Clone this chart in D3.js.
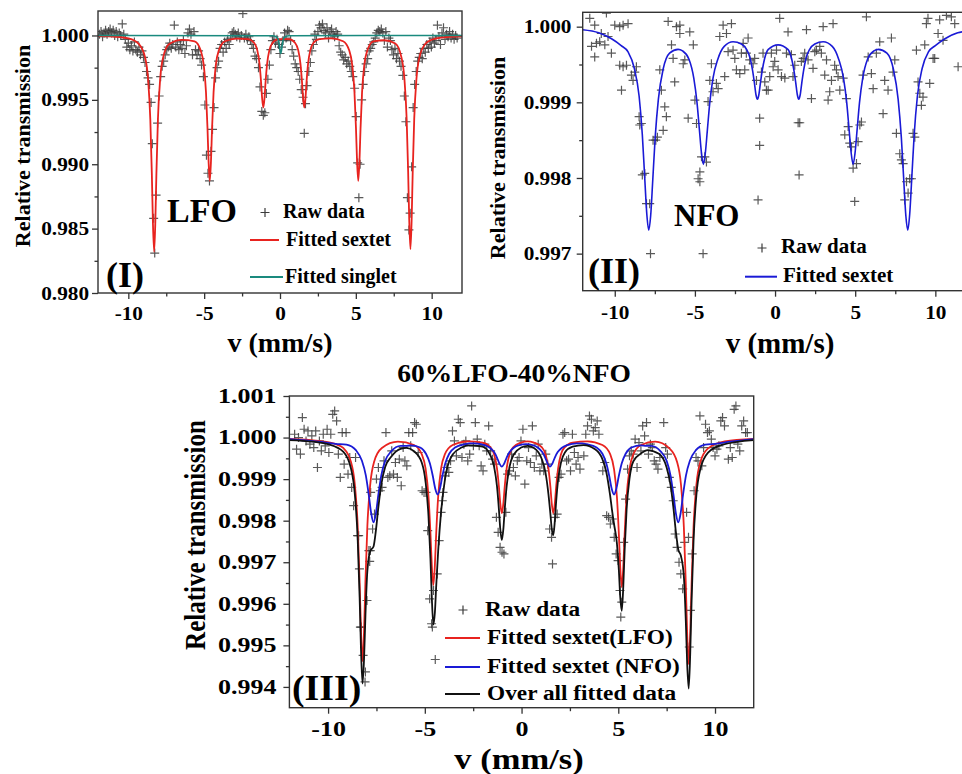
<!DOCTYPE html>
<html>
<head>
<meta charset="utf-8">
<script src="https://cdn.jsdelivr.net/npm/d3@7"></script>
<style>
  body { margin: 0; background: #fff; }
  svg text { font-family: "Liberation Serif", "Times New Roman", serif; font-weight: bold; fill: #000; }
</style>
</head>
<body>
<script>
// velocity axis (mm/s), shared by the three spectra
const vTicks = [-10, -5, 0, 5, 10];
const vMinor = [-7.5, -2.5, 2.5, 7.5];

// ---- (I) LFO ----
const tTicksI = [0.980, 0.985, 0.990, 0.995, 1.000];
const tMinorI = [0.9825, 0.9875, 0.9925, 0.9975];
const namesI = ['Raw data', 'Fitted sextet', 'Fitted singlet'];

const rawI = [
  [-11.9,1.0001],[-11.8,1.0003],[-11.7,0.9999],[-11.6,1.0002],[-11.5,1.0004],[-11.4,1.0001],[-11.3,1.0003],[-11.2,1.0005],
  [-11.1,1.0002],[-11.0,1.0004],[-10.9,1.0000],[-10.8,1.0003],[-10.7,0.9999],[-10.6,1.0002],[-10.5,1.0000],[-10.4,1.0009],
  [-10.3,1.0001],[-10.2,0.9997],[-10.1,0.9991],[-10.0,0.9994],[-9.9,0.9989],[-9.8,0.9992],[-9.7,0.9988],[-9.6,0.9995],
  [-9.5,0.9989],[-9.4,0.9987],[-9.3,0.9991],[-9.2,0.9985],[-9.1,0.9988],[-9.0,0.9983],[-8.9,0.9979],[-8.8,0.9972],
  [-8.7,0.9967],[-8.6,0.9962],[-8.5,0.9948],[-8.42,0.9916],[-8.33,0.9858],[-8.26,0.9831],[-8.17,0.9876],[-8.07,0.9932],
  [-7.97,0.9953],[-7.87,0.9968],[-7.77,0.9976],[-7.67,0.9980],[-7.57,0.9985],[-7.47,0.9989],[-7.37,0.9991],[-7.27,0.9994],
  [-7.17,0.9990],[-7.07,0.9993],[-6.97,1.0008],[-6.87,0.9991],[-6.77,0.9995],[-6.67,0.9989],[-6.57,0.9993],[-6.47,0.9990],
  [-6.37,0.9996],[-6.27,0.9986],[-6.17,0.9992],[-6.07,1.0002],[-5.97,1.0005],[-5.87,1.0001],[-5.77,0.9985],[-5.67,1.0003],
  [-5.57,0.9989],[-5.47,0.9985],[-5.37,0.9988],[-5.27,0.9982],[-5.17,0.9977],[-5.05,0.9968],[-4.95,0.9946],[-4.85,0.9907],
  [-4.75,0.9893],[-4.65,0.9887],[-4.55,0.9910],[-4.45,0.9927],[-4.35,0.9944],[-4.25,0.9967],[-4.15,0.9975],[-4.05,0.9980],
  [-3.95,0.9990],[-3.85,0.9993],[-3.75,0.9987],[-3.65,0.9995],[-3.55,0.9990],[-3.45,0.9997],[-3.35,0.9993],[-3.25,0.9998],
  [-3.15,1.0002],[-3.05,1.0003],[-2.95,1.0001],[-2.85,0.9999],[-2.75,1.0002],[-2.65,0.9998],[-2.55,1.0000],[-2.45,1.0017],
  [-2.35,0.9998],[-2.25,1.0001],[-2.15,0.9997],[-2.05,0.9999],[-1.95,0.9996],[-1.85,0.9993],[-1.75,0.9990],[-1.65,0.9984],
  [-1.55,0.9982],[-1.42,0.9975],[-1.32,0.9960],[-1.2,0.9941],[-1.1,0.9938],[-1.0,0.9940],[-0.9,0.9955],[-0.8,0.9966],
  [-0.7,0.9977],[-0.6,0.9989],[-0.5,0.9996],[-0.4,0.9999],[-0.3,0.9994],[-0.2,0.9997],[-0.1,0.9993],[0.0,0.9986],
  [0.1,0.9991],[0.2,0.9996],[0.3,1.0002],[0.4,0.9998],[0.5,1.0004],[0.6,1.0003],[0.7,0.9996],[0.8,0.9989],
  [0.9,0.9984],[1.0,0.9978],[1.1,0.9975],[1.2,0.9972],[1.3,0.9966],[1.4,0.9958],[1.52,0.9952],[1.6,0.9924],
  [1.68,0.9947],[1.78,0.9961],[1.9,0.9972],[2.0,0.9979],[2.1,0.9988],[2.2,0.9993],[2.3,1.0001],[2.4,0.9997],
  [2.5,1.0003],[2.6,1.0008],[2.7,1.0006],[2.8,1.0009],[2.9,1.0004],[3.0,1.0002],[3.1,1.0006],[3.2,0.9998],
  [3.3,1.0003],[3.4,1.0005],[3.5,1.0001],[3.6,0.9999],[3.7,1.0003],[3.8,1.0001],[3.9,0.9992],[4.0,0.9987],
  [4.1,0.9985],[4.2,0.9981],[4.3,0.9983],[4.4,0.9978],[4.5,0.9980],[4.6,0.9976],[4.7,0.9972],[4.8,0.9968],
  [4.92,0.9959],[5.02,0.9937],[5.12,0.9901],[5.2,0.9874],[5.28,0.9900],[5.38,0.9950],[5.48,0.9962],[5.58,0.9972],
  [5.68,0.9978],[5.78,0.9982],[5.88,0.9988],[5.98,0.9990],[6.08,0.9993],[6.18,0.9995],[6.28,0.9998],[6.38,1.0002],
  [6.48,1.0004],[6.58,1.0003],[6.68,1.0005],[6.78,1.0002],[6.88,0.9996],[6.98,1.0003],[7.08,0.9991],[7.18,0.9998],
  [7.28,0.9996],[7.38,0.9989],[7.48,0.9985],[7.58,0.9990],[7.68,0.9982],[7.78,0.9986],[7.88,0.9980],[7.98,0.9976],
  [8.1,0.9969],[8.2,0.9953],[8.3,0.9933],[8.4,0.9874],[8.5,0.9849],[8.58,0.9862],[8.68,0.9898],[8.78,0.9944],
  [8.88,0.9962],[8.98,0.9972],[9.08,0.9980],[9.18,0.9983],[9.28,0.9986],[9.38,0.9982],[9.48,0.9990],[9.58,0.9987],
  [9.68,0.9993],[9.78,0.9990],[9.88,0.9995],[9.98,0.9991],[10.08,0.9998],[10.18,0.9994],[10.28,0.9996],[10.38,1.0008],
  [10.48,0.9999],[10.58,0.9993],[10.68,1.0002],[10.78,1.0006],[10.88,0.9997],[10.98,1.0001],[11.08,0.9999],[11.18,1.0003],
  [11.28,0.9998],[11.38,1.0001],[11.48,0.9997],[11.58,1.0000],[11.68,0.9998]
];

const sextetI = [
  [-12,0.99995],[-10.8,0.9999],[-10.0,0.99977],[-9.3,0.99933],[-8.9,0.99832],[-8.7,0.99664],[-8.55,0.99345],
  [-8.45,0.98925],[-8.38,0.98552],[-8.3,0.9832],[-8.22,0.98552],[-8.15,0.98925],[-8.05,0.99345],[-7.9,0.99664],
  [-7.7,0.99832],[-7.3,0.99933],[-6.47,0.99966],[-5.63,0.99955],[-5.23,0.99885],[-5.03,0.99772],[-4.88,0.99559],
  [-4.78,0.99277],[-4.71,0.99026],[-4.63,0.9887],[-4.55,0.99026],[-4.48,0.99277],[-4.38,0.99559],[-4.23,0.99772],
  [-4.03,0.99885],[-3.63,0.99955],[-2.87,0.99976],[-2.1,0.99972],[-1.7,0.99942],[-1.5,0.99886],[-1.35,0.9978],
  [-1.25,0.9964],[-1.18,0.99515],[-1.1,0.9944],[-1.02,0.99515],[-0.95,0.9964],[-0.85,0.9978],[-0.7,0.99886],
  [-0.5,0.99942],[-0.1,0.99972],[0.25,0.99971],[0.6,0.99972],[1.0,0.99942],[1.2,0.99886],[1.35,0.9978],
  [1.45,0.9964],[1.52,0.99515],[1.6,0.9944],[1.68,0.99515],[1.75,0.9964],[1.85,0.9978],[2.0,0.99886],
  [2.2,0.99942],[2.6,0.99972],[3.38,0.99977],[4.16,0.99955],[4.56,0.99885],[4.76,0.99772],[4.91,0.99559],
  [5.01,0.99277],[5.08,0.99026],[5.16,0.9887],[5.24,0.99026],[5.31,0.99277],[5.41,0.99559],[5.56,0.99772],
  [5.76,0.99885],[6.16,0.99955],[6.88,0.99963],[7.6,0.99937],[8.0,0.99834],[8.2,0.99668],[8.35,0.99353],
  [8.45,0.98938],[8.52,0.98569],[8.6,0.9834],[8.68,0.98569],[8.75,0.98938],[8.85,0.99353],[9.0,0.99668],
  [9.2,0.99834],[9.6,0.99937],[10.0,0.99967],[10.6,0.99984],[12,0.99994]
];

const singletI = [
  [-12,1.0],[-0.5,0.99998],[-0.25,0.9999],[-0.12,0.9997],[-0.04,0.9992],[0.05,0.9986],[0.14,0.9992],
  [0.22,0.9997],[0.35,0.9999],[0.6,0.99998],[12,1.0]
];

// ---- (II) NFO ----
const tTicksII = [0.997, 0.998, 0.999, 1.000];
const tMinorII = [0.9975, 0.9985, 0.9995];
const namesII = ['Raw data', 'Fitted sextet'];

const rawII = [
  [-11.56,1.00011],[-11.45,0.99974],[-11.25,1.00002],[-11.25,0.9996],[-11.14,0.99978],[-10.94,0.9998],[-10.84,0.99991],
  [-10.62,0.99976],[-10.52,1.00018],[-10.42,0.99987],[-10.21,0.99965],[-10.0,1.00002],[-9.69,1.0],[-9.69,0.99949],
  [-9.58,0.99916],[-9.48,1.00002],[-9.48,0.99947],[-9.27,0.99949],[-9.17,1.00004],[-8.96,0.99936],[-8.86,0.99929],
  [-8.75,0.9994],[-8.65,0.99947],[-8.48,0.99881],[-8.44,0.9987],[-8.34,0.99872],[-8.28,0.99804],[-8.13,0.99806],
  [-8.02,0.99766],[-7.82,0.99766],[-7.77,0.997],[-7.61,0.9985],[-7.44,0.9985],[-7.34,0.99854],[-7.19,0.99943],
  [-7.09,0.99916],[-6.98,0.99863],[-6.88,0.99894],[-6.78,0.99881],[-6.67,1.00007],[-6.46,0.99976],[-6.36,0.99958],
  [-6.26,0.99927],[-6.15,1.0],[-5.94,1.00002],[-5.94,0.99991],[-5.73,0.99951],[-5.63,0.99956],[-5.42,0.99879],
  [-5.32,0.99993],[-5.1,0.99976],[-5.0,0.99903],[-4.9,0.99872],[-4.8,0.99799],[-4.69,0.99795],[-4.69,0.99808],
  [-4.59,0.99828],[-4.49,0.997],[-4.38,0.99828],[-4.28,0.99821],[-4.18,0.99901],[-4.07,0.99929],[-3.97,0.99951],
  [-3.87,0.99914],[-3.66,0.99925],[-3.55,0.99918],[-3.45,0.99987],[-3.24,1.00002],[-3.14,0.99934],[-3.03,0.99991],
  [-2.93,0.99967],[-2.72,1.00004],[-2.62,0.99969],[-2.51,0.99958],[-2.41,0.99943],[-2.2,0.99938],[-2.1,0.99965],
  [-1.99,0.99978],[-1.89,0.99943],[-1.79,0.99965],[-1.68,0.99985],[-1.58,0.99956],[-1.37,0.99951],[-1.27,0.99958],
  [-1.16,0.99929],[-1.06,0.99771],[-0.96,0.99879],[-0.96,0.99843],[-0.85,0.9994],[-0.75,0.99965],[-0.64,0.99927],
  [-0.54,0.99916],[-0.43,0.99916],[-0.33,0.99934],[-0.23,0.99965],[-0.12,0.99947],[-0.02,0.99954],[0.09,0.99969],
  [0.19,0.99943],[0.29,1.00011],[0.4,0.99934],[0.61,0.99932],[0.71,0.99965],[0.81,0.99993],[1.02,0.99963],
  [1.12,0.99934],[1.23,0.99949],[1.44,0.99873],[1.5,0.99804],[1.54,0.99873],[1.64,0.99954],[1.75,0.99958],
  [1.85,0.99965],[1.96,0.99996],[2.06,0.99956],[2.27,0.99905],[2.37,0.99945],[2.48,0.99967],[2.58,0.99969],
  [2.79,0.99974],[2.89,0.99965],[3.0,1.0],[3.1,0.99936],[3.21,0.99956],[3.31,0.99903],[3.41,0.99914],
  [3.52,0.99929],[3.62,1.00004],[3.72,0.99949],[3.83,0.99943],[3.93,0.99934],[4.04,0.99916],[4.25,0.99932],
  [4.35,0.99857],[4.45,0.99905],[4.56,0.99868],[4.66,0.99846],[4.77,0.99841],[4.87,0.99813],[4.97,0.99769],
  [5.08,0.99819],[5.18,0.99848],[5.29,0.9987],[5.39,0.99874],[5.49,0.99936],[5.7,1.00013],[5.81,0.9996],
  [6.01,0.99938],[6.12,0.99918],[6.32,0.99965],[6.53,0.9998],[6.74,0.99885],[6.84,0.99929],[7.05,0.99916],
  [7.26,0.99985],[7.36,0.9994],[7.47,0.99956],[7.57,0.99859],[7.78,0.99832],[7.88,0.99824],[7.99,0.99819],
  [8.09,0.99771],[8.2,0.99795],[8.3,0.9978],[8.4,0.99799],[8.51,0.99799],[8.61,0.99859],[8.72,0.99854],
  [8.82,0.99969],[8.92,0.99927],[9.03,0.99912],[9.13,0.99896],[9.23,0.99907],[9.34,0.99976],[9.44,1.00004],
  [9.54,1.00011],[9.65,0.99925],[9.86,0.99958],[9.96,0.99958],[10.17,0.99991],[10.27,1.00009],[10.48,0.99982],
  [10.69,1.00015],[11.0,1.00013],[11.21,1.00004],[11.42,0.99947]
];

const sextetII = [
  [-12,0.99996],[-11.0,0.99992],[-10.2,0.99984],[-9.6,0.99975],[-9.18,0.99967],[-8.78,0.99945],[-8.48,0.99908],
  [-8.28,0.99857],[-8.13,0.9980],[-8.0,0.99752],[-7.88,0.99731],[-7.76,0.9975],[-7.63,0.99797],[-7.48,0.99853],
  [-7.28,0.99904],[-6.98,0.99944],[-6.58,0.99965],[-6.05,0.9997],[-5.77,0.99968],[-5.37,0.99957],[-5.07,0.99932],
  [-4.87,0.999],[-4.72,0.99864],[-4.59,0.99833],[-4.47,0.99818],[-4.35,0.99833],[-4.22,0.99864],[-4.07,0.999],
  [-3.87,0.99932],[-3.57,0.99957],[-3.17,0.99974],[-2.62,0.9998],[-2.1,0.99977],[-1.78,0.9997],[-1.55,0.99958],
  [-1.4,0.99942],[-1.29,0.99926],[-1.19,0.9991],[-1.1,0.99904],[-1.01,0.9991],[-0.91,0.99926],[-0.8,0.99942],
  [-0.65,0.99958],[-0.42,0.9997],[0.19,0.99976],[0.8,0.9997],[1.03,0.99958],[1.18,0.99942],[1.29,0.99926],
  [1.39,0.9991],[1.48,0.99904],[1.57,0.9991],[1.67,0.99926],[1.78,0.99942],[1.93,0.99958],[2.16,0.9997],
  [2.48,0.99977],[3.0,0.9998],[3.57,0.99974],[3.97,0.99957],[4.27,0.99932],[4.47,0.999],[4.62,0.99864],
  [4.75,0.99833],[4.87,0.99818],[4.99,0.99833],[5.12,0.99864],[5.27,0.999],[5.47,0.99932],[5.77,0.99957],
  [6.17,0.99968],[6.45,0.9997],[6.98,0.99965],[7.38,0.99944],[7.68,0.99904],[7.88,0.99853],[8.03,0.99797],
  [8.16,0.9975],[8.28,0.99731],[8.4,0.99752],[8.53,0.9980],[8.68,0.99857],[8.88,0.99908],[9.18,0.99945],
  [9.58,0.99967],[10.0,0.99975],[10.6,0.99984],[11.4,0.99992],[12,0.99994]
];

// ---- (III) 60%LFO-40%NFO ----
const tTicksIII = [0.994, 0.995, 0.996, 0.997, 0.998, 0.999, 1.000, 1.001];
const tMinorIII = [0.9945, 0.9955, 0.9965, 0.9975, 0.9985, 0.9995, 1.0005];
const namesIII = ['Raw data', 'Fitted sextet(LFO)', 'Fitted sextet (NFO)', 'Over all fitted data'];

const rawIII = [
  [-11.73,1.00008],[-11.63,0.99972],[-11.53,1.0],[-11.43,0.9996],[-11.33,1.00048],[-11.24,1.0002],[-11.14,0.99992],
  [-11.04,1.00016],[-10.94,0.99984],[-10.84,1.00004],[-10.74,0.99976],[-10.64,1.00016],[-10.55,0.99928],[-10.45,0.99992],
  [-10.35,0.99968],[-10.25,1.00008],[-10.15,0.9998],[-10.05,1.0002],[-9.96,0.99964],[-9.86,1.00008],[-9.76,1.00056],
  [-9.66,1.00064],[-9.56,1.0004],[-9.47,0.9996],[-9.37,0.99904],[-9.27,1.00012],[-9.17,0.99936],[-9.07,1.00012],
  [-8.97,0.99912],[-8.88,0.99952],[-8.78,0.9988],[-8.68,0.99836],[-8.58,0.99952],[-8.48,0.99764],[-8.42,0.99764],
  [-8.38,0.99684],[-8.33,0.99544],[-8.29,0.99544],[-8.19,0.99476],[-8.09,0.99412],[-8.07,0.99436],[-7.99,0.99608],
  [-7.89,0.99728],[-7.85,0.99702],[-7.82,0.99728],[-7.8,0.99868],[-7.7,0.9978],[-7.6,0.99816],[-7.5,0.999],
  [-7.4,0.99928],[-7.3,0.99872],[-7.21,0.9988],[-7.11,0.99944],[-7.01,1.00012],[-6.91,0.99904],[-6.81,0.99908],
  [-6.71,0.99968],[-6.62,0.99912],[-6.52,0.9994],[-6.42,0.99904],[-6.32,0.99948],[-6.22,0.99884],[-6.12,0.99976],
  [-6.03,0.99944],[-5.93,0.99932],[-5.83,1.00012],[-5.73,0.9998],[-5.63,1.00012],[-5.53,1.00036],[-5.44,1.00032],
  [-5.34,0.99964],[-5.14,0.99872],[-5.04,0.99868],[-4.94,0.99868],[-4.85,0.99776],[-4.75,0.99612],[-4.65,0.99552],
  [-4.61,0.99544],[-4.55,0.99632],[-4.46,0.99466],[-4.36,0.99672],[-4.26,0.99752],[-4.16,0.9982],[-4.1,0.99848],
  [-4.06,0.99868],[-3.96,0.99908],[-3.86,0.99928],[-3.76,0.99916],[-3.67,0.99944],[-3.57,1.00016],[-3.47,0.99992],
  [-3.37,0.99956],[-3.27,1.00044],[-3.17,1.00036],[-3.08,0.99952],[-2.98,0.99984],[-2.88,0.99992],[-2.78,0.99944],
  [-2.68,0.9996],[-2.58,1.00076],[-2.49,0.9998],[-2.39,1.00036],[-2.29,0.99996],[-2.19,0.9998],[-2.09,0.99932],
  [-1.99,0.9992],[-1.9,0.99984],[-1.8,0.99968],[-1.7,1.00028],[-1.6,0.99968],[-1.5,0.99948],[-1.4,0.99936],
  [-1.3,0.99808],[-1.21,0.99772],[-1.11,0.99736],[-1.01,0.99724],[-0.91,0.9972],[-0.81,0.9982],[-0.72,0.99912],
  [-0.62,0.9992],[-0.52,0.9996],[-0.42,0.99928],[-0.32,0.99908],[-0.22,0.99944],[-0.13,0.99952],[-0.03,0.99992],
  [0.07,1.0002],[0.17,0.99888],[0.27,0.99944],[0.36,0.99976],[0.46,0.9994],[0.56,1.00028],[0.66,0.99928],
  [0.76,0.99956],[0.86,0.99984],[0.95,0.9992],[1.05,0.99936],[1.15,0.9992],[1.25,0.9996],[1.35,0.99936],
  [1.45,0.9978],[1.55,0.9976],[1.6,0.99696],[1.74,0.99808],[1.84,0.99816],[1.94,0.99904],[2.04,0.99912],
  [2.14,1.00008],[2.23,1.00012],[2.33,0.99944],[2.43,0.99948],[2.53,0.9992],[2.63,1.00008],[2.73,0.99964],
  [2.82,0.99936],[2.92,0.99952],[3.02,0.99924],[3.22,0.99956],[3.32,1.00008],[3.41,1.00028],[3.51,1.00052],
  [3.61,1.00044],[3.71,1.00016],[3.81,1.00024],[3.91,1.0004],[4.0,1.00008],[4.2,0.9992],[4.3,0.9994],
  [4.4,0.99812],[4.5,0.99808],[4.59,0.99792],[4.69,0.99804],[4.79,0.9976],[4.89,0.9972],[4.99,0.99704],
  [5.09,0.99632],[5.13,0.99568],[5.18,0.99604],[5.28,0.99748],[5.38,0.99852],[5.48,0.99924],[5.58,0.99956],
  [5.67,0.99968],[5.77,0.9996],[5.87,0.99996],[5.97,0.99928],[6.07,0.99988],[6.17,0.99968],[6.26,1.00028],
  [6.36,1.00004],[6.46,1.00036],[6.56,0.9996],[6.66,0.99984],[6.76,0.99976],[6.86,0.99944],[6.95,0.99936],
  [7.05,0.99924],[7.15,0.99952],[7.35,1.00036],[7.45,0.99976],[7.54,0.9996],[7.64,0.99904],[7.74,0.9988],
  [7.84,0.99848],[7.94,0.99768],[8.04,0.99736],[8.14,0.997],[8.23,0.99672],[8.33,0.99636],[8.43,0.99748],
  [8.53,0.9982],[8.63,0.9976],[8.67,0.99496],[8.73,0.99584],[8.82,0.9972],[8.92,0.99872],[9.02,0.99952],
  [9.12,0.99944],[9.22,1.00052],[9.32,0.99932],[9.41,0.99976],[9.51,1.00032],[9.61,1.00012],[9.71,1.00016],
  [9.81,0.99996],[9.9,0.99976],[10.0,0.99956],[10.1,0.99972],[10.2,0.9998],[10.3,1.0004],[10.39,1.00048],
  [10.49,1.00028],[10.69,0.99948],[10.79,0.99976],[10.89,0.99952],[10.99,1.00068],[11.08,1.00076],[11.18,0.99984],
  [11.28,0.99968],[11.38,1.00028],[11.48,1.0004],[11.58,1.00012],[11.67,1.00012]
];

const lfoIII = [
  [-12,0.99997],[-10.5,0.99992],[-9.6,0.99984],[-9.22,0.99975],[-8.82,0.99942],[-8.62,0.99888],[-8.47,0.99787],
  [-8.37,0.99654],[-8.30,0.99536],[-8.22,0.99462],[-8.14,0.99536],[-8.07,0.99654],[-7.97,0.99787],[-7.82,0.99888],
  [-7.62,0.99942],[-7.22,0.99975],[-6.39,0.9999],[-5.56,0.99982],[-5.16,0.9996],[-4.96,0.99925],[-4.81,0.99858],
  [-4.71,0.99771],[-4.64,0.99693],[-4.56,0.99645],[-4.48,0.99693],[-4.41,0.99771],[-4.31,0.99858],[-4.16,0.99925],
  [-3.96,0.9996],[-3.56,0.99982],[-2.8,0.99991],[-2.02,0.99988],[-1.62,0.99977],[-1.42,0.9996],[-1.27,0.99926],
  [-1.17,0.99882],[-1.1,0.99842],[-1.02,0.99818],[-0.94,0.99842],[-0.87,0.99882],[-0.77,0.99926],[-0.62,0.9996],
  [-0.42,0.99977],[-0.02,0.99988],[0.31,0.99991],[0.64,0.99988],[1.04,0.99977],[1.24,0.9996],[1.39,0.99926],
  [1.49,0.99882],[1.56,0.99842],[1.64,0.99818],[1.72,0.99842],[1.79,0.99882],[1.89,0.99926],[2.04,0.9996],
  [2.24,0.99977],[2.64,0.99988],[3.41,0.99991],[4.18,0.99982],[4.58,0.9996],[4.78,0.99924],[4.93,0.99857],
  [5.03,0.99768],[5.10,0.99689],[5.18,0.9964],[5.26,0.99689],[5.33,0.99768],[5.43,0.99857],[5.58,0.99924],
  [5.78,0.9996],[6.18,0.99982],[6.91,0.9999],[7.64,0.99974],[8.04,0.99941],[8.24,0.99887],[8.39,0.99784],
  [8.49,0.99649],[8.56,0.9953],[8.64,0.99455],[8.72,0.9953],[8.79,0.99649],[8.89,0.99784],[9.04,0.99887],
  [9.24,0.99941],[9.64,0.99974],[10.5,0.99991],[12,0.99997]
];

const nfoIII = [
  [-12,0.99996],[-10.5,0.9999],[-9.6,0.99985],[-9.05,0.99983],[-8.55,0.99969],[-8.25,0.99944],[-8.05,0.99909],
  [-7.9,0.99863],[-7.77,0.99817],[-7.65,0.99796],[-7.53,0.99817],[-7.4,0.99863],[-7.25,0.99909],[-7.05,0.99944],
  [-6.75,0.99966],[-6.25,0.9998],[-6.0,0.9998],[-5.74,0.99981],[-5.24,0.99976],[-4.94,0.99961],[-4.74,0.99938],
  [-4.59,0.99908],[-4.46,0.99877],[-4.34,0.99863],[-4.22,0.99877],[-4.09,0.99908],[-3.94,0.99938],[-3.74,0.99961],
  [-3.44,0.99976],[-2.94,0.99984],[-2.68,0.99986],[-2.42,0.99986],[-1.92,0.99982],[-1.62,0.99975],[-1.42,0.99965],
  [-1.27,0.99952],[-1.14,0.99937],[-1.02,0.9993],[-0.9,0.99937],[-0.77,0.99952],[-0.62,0.99965],[-0.42,0.99975],
  [-0.12,0.99982],[0.23,0.99984],[0.57,0.99982],[0.87,0.99975],[1.07,0.99965],[1.22,0.99952],[1.35,0.99937],
  [1.47,0.9993],[1.59,0.99937],[1.72,0.99952],[1.87,0.99965],[2.07,0.99975],[2.37,0.99982],[2.87,0.99986],
  [3.13,0.99986],[3.38,0.99984],[3.88,0.99976],[4.18,0.99961],[4.38,0.99938],[4.53,0.99908],[4.66,0.99877],
  [4.78,0.99863],[4.9,0.99877],[5.03,0.99908],[5.18,0.99938],[5.38,0.99961],[5.68,0.99976],[6.18,0.99981],
  [6.44,0.9998],[6.7,0.9998],[7.2,0.99966],[7.5,0.99944],[7.7,0.99909],[7.85,0.99863],[7.98,0.99817],
  [8.1,0.99796],[8.22,0.99817],[8.35,0.99863],[8.5,0.99909],[8.7,0.99944],[9.0,0.99969],[9.5,0.99983],
  [10.0,0.99985],[10.8,0.9999],[12,0.99996]
];

const totalIII = [
  [-12,0.99994],[-10.8,0.9999],[-10.0,0.99984],[-9.22,0.99966],[-8.82,0.99926],[-8.62,0.99865],[-8.47,0.99756],
  [-8.37,0.99616],[-8.30,0.99491],[-8.22,0.99408],[-8.14,0.99469],[-8.07,0.99572],[-7.97,0.99679],[-7.82,0.99727],
  [-7.65,0.99738],[-7.53,0.99776],[-7.40,0.99833],[-7.25,0.99887],[-7.05,0.99929],[-6.75,0.99953],[-6.25,0.99973],
  [-5.95,0.99975],[-5.56,0.99967],[-5.16,0.9994],[-4.96,0.99893],[-4.81,0.99811],[-4.71,0.99709],[-4.64,0.99617],
  [-4.56,0.9955],[-4.48,0.99579],[-4.41,0.99644],[-4.31,0.99727],[-4.16,0.99821],[-3.96,0.99899],[-3.56,0.99959],
  [-3.1,0.99976],[-2.7,0.99981],[-2.02,0.99978],[-1.62,0.99958],[-1.42,0.9993],[-1.27,0.99883],[-1.17,0.99827],
  [-1.1,0.9978],[-1.02,0.99753],[-0.94,0.9978],[-0.87,0.99827],[-0.77,0.99883],[-0.62,0.9993],[-0.42,0.99958],
  [-0.02,0.99976],[0.31,0.9998],[0.64,0.99975],[1.04,0.99949],[1.24,0.99915],[1.39,0.99864],[1.49,0.99817],
  [1.56,0.99781],[1.64,0.99765],[1.72,0.99799],[1.79,0.99847],[1.89,0.99899],[2.04,0.9994],[2.24,0.99964],
  [2.64,0.99978],[3.2,0.99982],[3.8,0.99972],[4.18,0.99948],[4.38,0.99917],[4.58,0.9986],[4.68,0.99824],
  [4.78,0.99792],[4.93,0.99745],[5.03,0.99681],[5.10,0.99617],[5.18,0.99583],[5.26,0.99643],[5.33,0.9973],
  [5.43,0.99827],[5.58,0.99901],[5.78,0.99943],[6.18,0.99962],[6.5,0.9997],[7.1,0.99961],[7.5,0.99928],
  [7.7,0.99886],[7.85,0.99831],[7.98,0.99772],[8.1,0.99731],[8.24,0.99715],[8.39,0.99666],[8.49,0.9956],
  [8.56,0.99457],[8.64,0.99396],[8.72,0.99482],[8.79,0.99608],[8.89,0.99751],[9.04,0.99863],[9.24,0.99924],
  [9.64,0.99964],[10.4,0.99983],[12,0.99994]
];

const RED = '#e8231f', BLUE = '#1a1ad6', TEAL = '#1a8a7e', BLACK = '#111';
const SERIF = '"Liberation Serif", "Times New Roman", serif';

const svg = d3.select('body').append('svg')
  .attr('width', 962)
  .attr('height', 774);

// bold serif text, optionally stretched sideways like the scanned figure
function label(g, str, x, y, o) {
  let tf = 'translate(' + x + ',' + y + ') scale(' + (o.sx || 1) + ',1)';
  if (o.rotate) tf += ' rotate(' + o.rotate + ')';
  return g.append('text')
    .attr('transform', tf)
    .attr('text-anchor', o.anchor || 'start')
    .attr('font-family', SERIF)
    .attr('font-weight', 'bold')
    .attr('font-size', o.size)
    .text(str);
}

const crossPath = 'M-4.5,0H4.5M0,-4.5V4.5';

function drawPanel(p) {
  let x = d3.scaleLinear().domain([-12, 12]).range([p.left, p.right]);
  let y = d3.scaleLinear().domain(p.yDomain).range([p.bottom, p.top]);

  let g = svg.append('g');

  g.append('clipPath').attr('id', 'clip' + p.id)
    .append('rect')
    .attr('x', p.left).attr('y', p.top)
    .attr('width', p.right - p.left).attr('height', p.bottom - p.top);

  let plot = g.append('g').attr('clip-path', 'url(#clip' + p.id + ')');

  plot.selectAll('path.raw')
    .data(p.raw)
    .enter().append('path')
    .attr('class', 'raw')
    .attr('transform', d => 'translate(' + x(d[0]) + ',' + y(d[1]) + ')')
    .attr('d', crossPath)
    .attr('stroke', '#3c3c3c')
    .attr('stroke-opacity', 0.85)
    .attr('stroke-width', 1.2)
    .attr('fill', 'none');

  let line = d3.line()
    .x(d => x(d[0]))
    .y(d => y(d[1]))
    .curve(d3.curveMonotoneX);

  p.lines.forEach(l => {
    plot.append('path')
      .datum(l.data)
      .attr('d', line)
      .attr('fill', 'none')
      .attr('stroke', l.color)
      .attr('stroke-width', l.width || 1.7);
  });

  // frame
  g.append('rect')
    .attr('x', p.left).attr('y', p.top)
    .attr('width', p.right - p.left).attr('height', p.bottom - p.top)
    .attr('fill', 'none')
    .attr('stroke', '#333')
    .attr('stroke-width', 1.4);

  // axes: major + minor ticks, outward
  let yAxis = g.append('g')
    .attr('transform', 'translate(' + p.left + ',0)')
    .call(d3.axisLeft(y).tickValues(p.yTicks).tickFormat(d3.format('.3f')).tickSize(6).tickPadding(p.yPad));
  g.append('g')
    .attr('transform', 'translate(' + p.left + ',0)')
    .call(d3.axisLeft(y).tickValues(p.yMinor).tickFormat('').tickSize(3.5));

  let xAxis = g.append('g')
    .attr('transform', 'translate(0,' + p.bottom + ')')
    .call(d3.axisBottom(x).tickValues(vTicks).tickFormat(d => String(d)).tickSize(6).tickPadding(p.xPad));
  g.append('g')
    .attr('transform', 'translate(0,' + p.bottom + ')')
    .call(d3.axisBottom(x).tickValues(vMinor).tickFormat('').tickSize(3.5));

  g.selectAll('.domain').remove();
  g.selectAll('.tick line').attr('stroke', '#333').attr('stroke-width', 1.3);
  [yAxis, xAxis].forEach(a => {
    a.attr('font-family', SERIF).attr('font-size', p.tickSize).attr('font-weight', 'bold');
    a.selectAll('text')
      .attr('font-family', SERIF)
      .attr('font-weight', 'bold')
      .attr('font-size', p.tickSize)
      .attr('fill', '#000')
      .attr('transform', 'scale(' + p.tickSx + ',1)');
  });

  // axis titles
  label(g, 'Relative transmission', p.yLabel[0], p.yLabel[1], { size: p.yLabelSize, anchor: 'middle', rotate: -90, sx: p.labelSx });
  label(g, 'v (mm/s)', p.xLabel[0], p.xLabel[1], { size: p.xLabelSize, anchor: 'middle', sx: p.labelSx });

  // sample name and panel number
  p.notes.forEach(n => label(g, n.text, n.x, n.y, { size: n.size, sx: n.sx }));

  // legend
  p.legend.forEach(it => {
    if (it.kind === 'plus') {
      g.append('path')
        .attr('transform', 'translate(' + it.x + ',' + it.y + ')')
        .attr('d', crossPath)
        .attr('stroke', '#3c3c3c')
        .attr('stroke-width', 1.2)
        .attr('fill', 'none');
    } else {
      g.append('line')
        .attr('x1', it.x0).attr('x2', it.x1)
        .attr('y1', it.y).attr('y2', it.y)
        .attr('stroke', it.color)
        .attr('stroke-width', 2);
    }
    label(g, it.text, it.tx, it.y + it.dy, { size: p.legendSize, sx: p.legendSx });
  });
}

drawPanel({
  id: 'I', left: 98, right: 462, top: 11, bottom: 293,
  yDomain: [0.980, 1.0019], yTicks: tTicksI, yMinor: tMinorI,
  yPad: 2, xPad: 8, tickSize: 19, tickSx: 1.12,
  raw: rawI,
  lines: [
    { data: sextetI, color: RED, width: 1.8 },
    { data: singletI, color: TEAL, width: 1.6 }
  ],
  yLabel: [30, 146], yLabelSize: 22, xLabel: [280, 352], xLabelSize: 28, labelSx: 1,
  notes: [
    { text: 'LFO', x: 167, y: 222, size: 34 },
    { text: '(I)', x: 106, y: 287, size: 36 }
  ],
  legendSize: 20, legendSx: 1,
  legend: [
    { kind: 'plus', x: 265, y: 212.5, tx: 283, dy: 5, text: namesI[0] },
    { kind: 'line', x0: 250, x1: 279, y: 240, color: RED, tx: 286, dy: 5.5, text: namesI[1] },
    { kind: 'line', x0: 250, x1: 283, y: 277, color: TEAL, tx: 285, dy: 5.5, text: namesI[2] }
  ]
});

drawPanel({
  id: 'II', left: 582.7, right: 967.4, top: 12.3, bottom: 290.7,
  yDomain: [0.99651, 1.00019], yTicks: tTicksII, yMinor: tMinorII,
  yPad: 4, xPad: 8.5, tickSize: 19, tickSx: 1.12,
  raw: rawII,
  lines: [
    { data: sextetII, color: BLUE, width: 1.6 }
  ],
  yLabel: [505, 158], yLabelSize: 22, xLabel: [780, 353], xLabelSize: 29, labelSx: 1,
  notes: [
    { text: 'NFO', x: 674, y: 226, size: 31 },
    { text: '(II)', x: 588, y: 283, size: 36 }
  ],
  legendSize: 21, legendSx: 1,
  legend: [
    { kind: 'plus', x: 762, y: 248, tx: 781, dy: 5, text: namesII[0] },
    { kind: 'line', x0: 745, x1: 777, y: 276.7, color: BLUE, tx: 783, dy: 5.5, text: namesII[1] }
  ]
});

drawPanel({
  id: 'III', left: 289.4, right: 753.7, top: 396, bottom: 707.7,
  yDomain: [0.9935, 1.001], yTicks: tTicksIII, yMinor: tMinorIII,
  yPad: 4, xPad: 8.5, tickSize: 20, tickSx: 1.3,
  raw: rawIII,
  lines: [
    { data: lfoIII, color: RED, width: 1.8 },
    { data: nfoIII, color: BLUE, width: 1.8 },
    { data: totalIII, color: BLACK, width: 1.8 }
  ],
  yLabel: [205, 535], yLabelSize: 25, xLabel: [519, 769], xLabelSize: 30, labelSx: 1.15,
  notes: [
    { text: '(III)', x: 292, y: 700, size: 36, sx: 1.05 }
  ],
  legendSize: 22, legendSx: 1.06,
  legend: [
    { kind: 'plus', x: 463, y: 610, tx: 485, dy: 5.5, text: namesIII[0] },
    { kind: 'line', x0: 445, x1: 480, y: 638, color: RED, tx: 487, dy: 6, text: namesIII[1] },
    { kind: 'line', x0: 445, x1: 480, y: 667, color: BLUE, tx: 487, dy: 6, text: namesIII[2] },
    { kind: 'line', x0: 445, x1: 480, y: 694, color: BLACK, tx: 487, dy: 6, text: namesIII[3] }
  ]
});

label(svg, '60%LFO-40%NFO', 514, 382, { size: 25, anchor: 'middle', sx: 1.1 });
</script>
</body>
</html>
